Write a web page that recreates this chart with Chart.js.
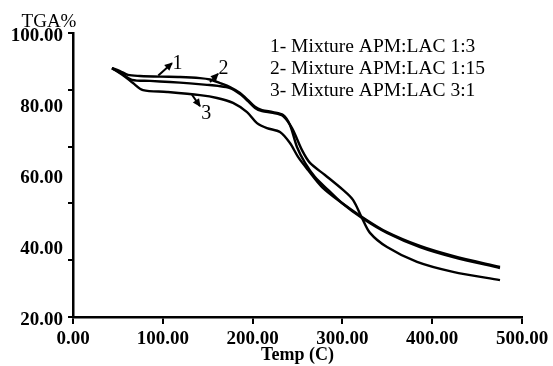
<!DOCTYPE html>
<html>
<head>
<meta charset="utf-8">
<script src="https://cdn.jsdelivr.net/npm/chart.js@4.4.1/dist/chart.umd.min.js"></script>
<style>
  html, body { margin: 0; padding: 0; background: #fff; }
  #wrap { position: relative; width: 553px; height: 366px; }
</style>
</head>
<body>
<div id="wrap"><canvas id="c" width="553" height="366"></canvas></div>
<script>
// ---- data ----
const seriesNames = ["1- Mixture APM:LAC 1:3", "2- Mixture APM:LAC 1:15", "3- Mixture APM:LAC 3:1"];

const temp1 = [43.4, 52.3, 61.2, 74.6, 96.9, 119.2, 141.4, 152.6, 163.7, 174.8, 186.0, 194.9, 202.7, 210.5, 222.7, 233.9, 241.6, 249.4, 258.4, 269.5, 284.0, 299.5, 321.8, 349.7, 386.4, 423.2, 475.5];
const tga1  = [90.1, 89.3, 88.2, 87.9, 87.7, 87.6, 87.3, 86.9, 85.9, 84.8, 83.1, 81.1, 79.2, 78.3, 77.7, 76.9, 74.1, 67.9, 63.4, 59.4, 55.8, 52.1, 47.9, 43.7, 39.7, 36.9, 33.8];

const temp2 = [43.4, 54.6, 65.7, 85.7, 108.0, 130.3, 149.2, 161.5, 174.8, 186.0, 194.9, 202.7, 210.5, 222.7, 233.9, 243.9, 255.0, 263.9, 280.6, 300.7, 311.8, 321.8, 330.7, 349.7, 383.1, 423.2, 475.5];
const tga2  = [90.1, 88.5, 86.8, 86.5, 86.2, 85.8, 85.4, 85.1, 84.5, 82.8, 80.8, 78.9, 78.0, 77.5, 76.6, 73.2, 67.0, 63.4, 60.0, 55.8, 53.0, 47.9, 43.7, 39.7, 35.5, 32.7, 30.4];

const temp3 = [43.4, 56.8, 66.8, 78.0, 104.7, 141.4, 160.4, 178.2, 193.8, 204.9, 216.0, 230.5, 241.6, 250.6, 261.7, 277.3, 299.5, 321.8, 349.7, 386.4, 423.2, 475.5];
const tga3  = [90.1, 87.9, 85.9, 83.9, 83.4, 82.5, 81.7, 80.3, 77.7, 74.6, 73.2, 72.1, 69.0, 65.1, 61.4, 56.6, 52.1, 48.2, 43.9, 40.0, 37.2, 34.1];

const xTickValues = [0, 100, 200, 300, 400, 500];
const yLabelValues = [20, 40, 60, 80, 100];
const yMarkValues = [20, 36, 52, 68, 84, 100];

// callouts: label text, arrow tail, arrow head, label position (data units)
const calloutText = ["1", "2", "3"];
const calloutTail = [[95.0, 88.0], [152.6, 86.2], [132.5, 82.6]];
const calloutHead = [[110.2, 91.5], [161.5, 88.5], [141.4, 79.4]];
const calloutLabel = [[116.5, 91.3], [167.5, 90.0], [148.5, 77.3]];

// ---- chart ----
const SERIF = '"Liberation Serif", "Times New Roman", serif';
function pts(xs, ys) { return xs.map((x, i) => ({ x: x, y: ys[i] })); }

const allYTicks = Array.from(new Set(yLabelValues.concat(yMarkValues))).sort((a, b) => a - b);

const textPlugin = {
  id: 'texts',
  afterDatasetsDraw(chart) {
    const ctx = chart.ctx;
    const xs = chart.scales.x, ys = chart.scales.y;
    ctx.save();
    ctx.fillStyle = '#000';
    ctx.strokeStyle = '#000';
    // callouts
    for (let i = 0; i < calloutText.length; i++) {
      const tx = xs.getPixelForValue(calloutTail[i][0]), ty = ys.getPixelForValue(calloutTail[i][1]);
      const hx = xs.getPixelForValue(calloutHead[i][0]), hy = ys.getPixelForValue(calloutHead[i][1]);
      ctx.lineWidth = 2;
      ctx.beginPath(); ctx.moveTo(tx, ty); ctx.lineTo(hx, hy); ctx.stroke();
      const a = Math.atan2(hy - ty, hx - tx), L = 8, W = 0.5;
      ctx.beginPath();
      ctx.moveTo(hx + Math.cos(a), hy + Math.sin(a));
      ctx.lineTo(hx - L * Math.cos(a - W), hy - L * Math.sin(a - W));
      ctx.lineTo(hx - L * Math.cos(a + W), hy - L * Math.sin(a + W));
      ctx.closePath(); ctx.fill();
      ctx.font = '20px ' + SERIF;
      ctx.textAlign = 'center'; ctx.textBaseline = 'middle';
      ctx.fillText(calloutText[i], xs.getPixelForValue(calloutLabel[i][0]), ys.getPixelForValue(calloutLabel[i][1]));
    }
    // legend text
    ctx.font = '19.5px ' + SERIF;
    ctx.textAlign = 'left'; ctx.textBaseline = 'alphabetic';
    seriesNames.forEach((s, i) => ctx.fillText(s, 270, 52 + 22 * i));
    // y axis title
    ctx.font = '19px ' + SERIF;
    ctx.textAlign = 'center'; ctx.textBaseline = 'alphabetic';
    ctx.fillText('TGA%', 49, 27);
    ctx.restore();
  }
};

const lineStyle = { borderColor: '#000', borderWidth: 2.4, pointRadius: 0, tension: 0.3, fill: false };

new Chart(document.getElementById('c'), {
  type: 'line',
  data: {
    datasets: [
      Object.assign({ label: seriesNames[0], data: pts(temp1, tga1) }, lineStyle),
      Object.assign({ label: seriesNames[1], data: pts(temp2, tga2) }, lineStyle),
      Object.assign({ label: seriesNames[2], data: pts(temp3, tga3) }, lineStyle)
    ]
  },
  options: {
    responsive: false,
    devicePixelRatio: 1,
    animation: false,
    layout: { padding: { left: 0, top: 33, right: 31, bottom: 0 } },
    plugins: { legend: { display: false }, tooltip: { enabled: false }, title: { display: false } },
    scales: {
      x: {
        type: 'linear', min: 0, max: 500,
        afterBuildTicks: (s) => { s.ticks = xTickValues.map(v => ({ value: v })); },
        afterFit: (s) => { s.height = 49; },
        border: { display: true, color: '#000', width: 2.5 },
        grid: { display: true, drawOnChartArea: false, drawTicks: true, tickLength: 7, color: '#000', lineWidth: 2 },
        ticks: { color: '#000', padding: 4, maxRotation: 0, font: { family: SERIF, size: 19, weight: 'bold' },
                 callback: (v) => Number(v).toFixed(2) },
        title: { display: true, text: 'Temp (C)', color: '#000', padding: { top: 0, bottom: 0 },
                 font: { family: SERIF, size: 18, weight: 'bold' } }
      },
      y: {
        type: 'linear', min: 20, max: 100,
        afterBuildTicks: (s) => { s.ticks = allYTicks.map(v => ({ value: v })); },
        afterFit: (s) => { s.width = 73; },
        border: { display: true, color: '#000', width: 2.5 },
        grid: { display: true, drawOnChartArea: false, drawTicks: true, tickLength: 5, lineWidth: 2,
                tickColor: (c) => (c.tick && yMarkValues.includes(c.tick.value)) ? '#000' : 'rgba(0,0,0,0)',
                color: '#000' },
        ticks: { color: '#000', padding: 5, autoSkip: false, labelOffset: 3, font: { family: SERIF, size: 19, weight: 'bold' },
                 callback: (v) => yLabelValues.includes(v) ? Number(v).toFixed(2) : '' }
      }
    }
  },
  plugins: [textPlugin]
});
</script>
</body>
</html>
